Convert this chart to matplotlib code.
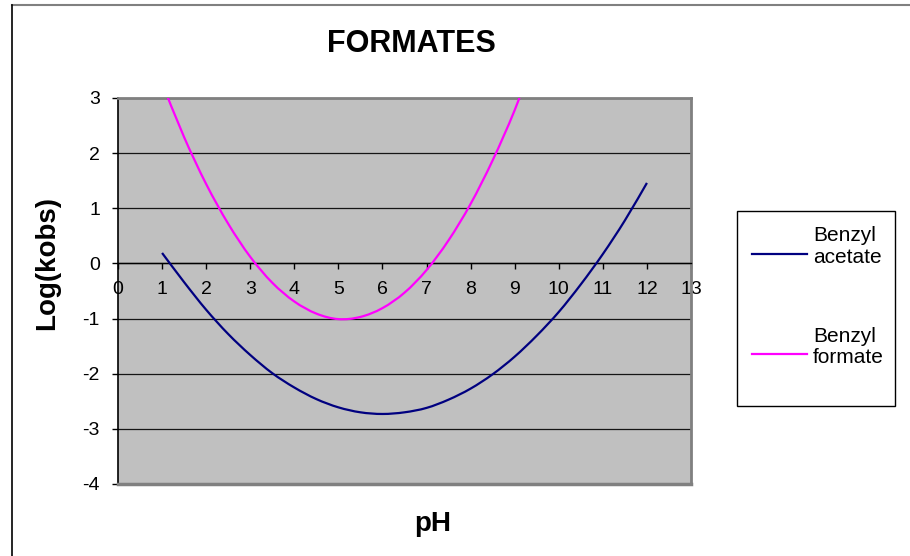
import numpy as np
import matplotlib
matplotlib.use("Agg")
import matplotlib.pyplot as plt
from matplotlib.lines import Line2D
from matplotlib.patches import Rectangle, PathPatch
from matplotlib.path import Path

plt.rcParams['font.family'] = ['Liberation Sans', 'DejaVu Sans']
plt.rcParams['axes.unicode_minus'] = False

# pH readings and log(kobs) values
ph = [1.0, 1.5, 2.0, 2.5, 3.0, 3.5, 4.0, 4.5, 5.0, 5.5, 6.0, 6.5,
      7.0, 7.5, 8.0, 8.5, 9.0, 9.5, 10.0, 10.5, 11.0, 11.5, 12.0]
acetate = [0.19, -0.34, -0.84, -1.28, -1.66, -1.99, -2.25, -2.46, -2.61, -2.70, -2.73, -2.70,
           -2.62, -2.47, -2.27, -2.01, -1.69, -1.31, -0.88, -0.38, 0.17, 0.78, 1.46]
ph_f = [1.0, 1.5, 2.0, 2.5, 3.0, 3.5, 4.0, 4.5, 5.0, 5.5, 6.0, 6.5,
        7.0, 7.5, 8.0, 8.5, 9.0, 9.5]
formate = [3.27, 2.29, 1.44, 0.72, 0.12, -0.35, -0.69, -0.91, -1.01, -0.97, -0.81, -0.53,
           -0.12, 0.42, 1.08, 1.87, 2.78, 3.83]
labels = ["Benzyl\nacetate", "Benzyl\nformate"]
colors = ["#000080", "#FF00FF"]


# Excel-like smoothed line: cubic bezier segments through the data points
def smooth_path(x, y):
    x = np.asarray(x, float)
    y = np.asarray(y, float)
    n = len(x)
    verts = [(x[0], y[0])]
    codes = [Path.MOVETO]
    for i in range(n - 1):
        x0, y0 = (x[i - 1], y[i - 1]) if i > 0 else (x[i], y[i])
        x3, y3 = (x[i + 2], y[i + 2]) if i + 2 < n else (x[i + 1], y[i + 1])
        c1 = (x[i] + (x[i + 1] - x0) / 6, y[i] + (y[i + 1] - y0) / 6)
        c2 = (x[i + 1] - (x3 - x[i]) / 6, y[i + 1] - (y3 - y[i]) / 6)
        verts += [c1, c2, (x[i + 1], y[i + 1])]
        codes += [Path.CURVE4] * 3
    return Path(verts, codes)


W, H = 910, 556
fig = plt.figure(figsize=(W / 100, H / 100), dpi=100)

def fx(px):
    return px / W

def fy(py):
    return 1 - py / H

# outer chart frame
fig.add_artist(Line2D([fx(11.5), 1], [fy(5), fy(5)], color="#808080", lw=1.5))
fig.add_artist(Line2D([fx(11.5), fx(11.5)], [fy(5), 0], color="black", lw=1.2))

ax = fig.add_axes([fx(118), fy(484), (691 - 118) / W, (484 - 98) / H])
ax.set_facecolor("#C0C0C0")

for xs, ys, c in [(ph, acetate, colors[0]), (ph_f, formate, colors[1])]:
    ax.add_patch(PathPatch(smooth_path(xs, ys), facecolor='none', edgecolor=c, lw=1.6, zorder=3))

ax.set_xlim(0, 13)
ax.set_ylim(-4, 3)
ax.set_xticks(range(0, 14))
ax.set_yticks(range(-4, 4))

ax.yaxis.grid(True, color="#151515", lw=0.9)
ax.set_axisbelow(True)

ax.spines['bottom'].set_position(('data', 0))
ax.spines['bottom'].set_color('black')
ax.spines['bottom'].set_linewidth(1.0)
ax.spines['left'].set_color('black')
ax.spines['left'].set_linewidth(1.2)
for s in ['top', 'right']:
    ax.spines[s].set_color('#808080')
    ax.spines[s].set_linewidth(2)
ax.axhline(-4, color='#808080', lw=2.5, clip_on=False, zorder=4)

ax.tick_params(axis='x', direction='out', length=4, width=1, pad=9, labelsize=14)
ax.tick_params(axis='y', direction='out', length=4, width=1, pad=9, labelsize=14)

ax.set_title("FORMATES", fontsize=22, fontweight='bold', x=(411 - 118) / 573, y=(484 - 60.7) / 386)
ax.set_xlabel("pH", fontsize=20, fontweight='bold', va='baseline')
ax.xaxis.set_label_coords((432.5 - 118) / 573, (484 - 531) / 386)
ax.set_ylabel("Log(kobs)", fontsize=20, fontweight='bold', va='center')
ax.yaxis.set_label_coords((47 - 118) / 573, (484 - 263.5) / 386)

# legend box drawn by hand, Excel style
fig.add_artist(Rectangle((fx(737), fy(406)), (895 - 737) / W, (406 - 211) / H,
                         facecolor='white', edgecolor='black', lw=1))
for i, (lab, c) in enumerate(zip(labels, colors)):
    ly = 254 + i * 100
    fig.add_artist(Line2D([fx(752), fx(807)], [fy(ly), fy(ly)], color=c, lw=1.6))
    fig.text(fx(813), fy(262.7 + i * 100.3), lab, fontsize=15, ha='left', va='baseline',
             multialignment='left', linespacing=1.15)

plt.savefig("out.png", dpi=100)
